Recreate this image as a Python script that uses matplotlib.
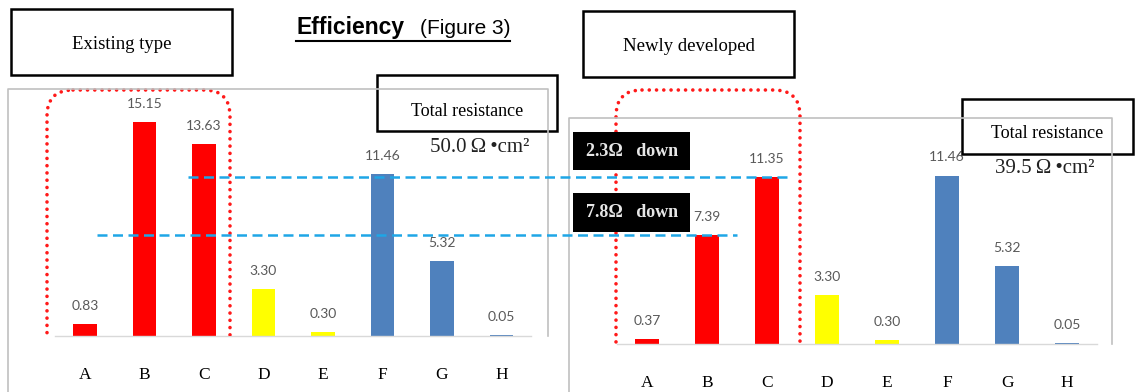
import matplotlib
matplotlib.use("Agg")
import matplotlib.pyplot as plt
from matplotlib.patches import Rectangle, FancyBboxPatch

# data
categories = ['A', 'B', 'C', 'D', 'E', 'F', 'G', 'H']
existing_vals = [0.83, 15.15, 13.63, 3.30, 0.30, 11.46, 5.32, 0.05]
newly_vals = [0.37, 7.39, 11.35, 3.30, 0.30, 11.46, 5.32, 0.05]
total_existing = '50.0'
total_newly = '39.5'
drop_small = '2.3'   # C: 13.63 -> 11.35
drop_big = '7.8'     # B: 15.15 -> 7.39

bar_colors = ['#ff0000'] * 3 + ['#ffff00'] * 2 + ['#4f81bd'] * 3

W, H = 1136, 392
SERIF = 'Liberation Serif'
SANS = 'Liberation Sans'


def px_rect(l, t, r, b):
    # pixel box (top-left origin) -> figure fraction
    return [l / W, (H - b) / H, (r - l) / W, (b - t) / H]


def bar_panel(ax, vals, ymax):
    x = range(len(categories))
    ax.bar(x, vals, width=0.39, color=bar_colors)
    for i, v in enumerate(vals):
        ax.annotate(f'{v:.2f}', (i, v), xytext=(0, 13), textcoords='offset points',
                    ha='center', va='center', fontsize=10, color='#595959',
                    fontfamily='Lato')
    ax.set_xlim(-0.5, len(categories) - 0.5)
    ax.set_ylim(0, ymax)
    ax.set_xticks(list(x))
    ax.set_xticklabels(categories, fontfamily=SERIF, fontsize=12.5)
    ax.tick_params(axis='x', length=0, pad=22)
    ax.set_yticks([])
    for s in ['top', 'left', 'right']:
        ax.spines[s].set_visible(False)
    ax.spines['bottom'].set_color('#d9d9d9')
    ax.spines['bottom'].set_linewidth(1)
    ax.patch.set_alpha(0)


fig = plt.figure(figsize=(W / 100, H / 100), dpi=100)

ax_l = fig.add_axes(px_rect(55.25, 90, 531.25, 336))
bar_panel(ax_l, existing_vals, (336 - 90) / 14.1)

ax_r = fig.add_axes(px_rect(617, 118, 1097, 344))
bar_panel(ax_r, newly_vals, (344 - 118) / 14.7)

# overlay in pixel coordinates for the boxes and marks on top
ov = fig.add_axes([0, 0, 1, 1], zorder=5)
ov.set_xlim(0, W)
ov.set_ylim(H, 0)
ov.axis('off')
ov.patch.set_alpha(0)

# chart frames
ov.plot([8, 8, 548, 548], [H, 89, 89, 336], color='#c0c0c0', lw=1.2)
ov.plot([569, 569, 1112, 1112], [H, 118, 118, 344], color='#c0c0c0', lw=1.2)

# title
ov.text(296, 34, 'Efficiency', fontfamily=SANS, fontweight='bold', fontsize=16.5,
        ha='left', va='baseline')
ov.text(510, 34, '(Figure 3)', fontfamily=SANS, fontsize=15, ha='right', va='baseline')
ov.plot([296, 510], [40.5, 40.5], color='black', lw=1.5)


def label_box(l, t, r, b, text, ty=None, size=13.5):
    ov.add_patch(Rectangle((l, t), r - l, b - t, fc='white', ec='black', lw=1.8))
    ov.text((l + r) / 2, (t + b) / 2 + 2 if ty is None else ty, text, fontfamily=SERIF,
            fontsize=size, ha='center', va='center')


label_box(11, 9, 232, 75, 'Existing type')
label_box(583, 11, 794, 77, 'Newly developed')
label_box(377, 75, 557, 131, 'Total resistance', ty=111, size=13)
label_box(962, 99, 1133, 154, 'Total resistance', ty=134, size=13)

ov.text(480, 147, f'{total_existing}\u2009Ω\u2009•cm²', fontfamily=SERIF, fontsize=15,
        ha='center', va='center', color='#222222')
ov.text(1045, 168, f'{total_newly}\u2009Ω\u2009•cm²', fontfamily=SERIF, fontsize=15,
        ha='center', va='center', color='#222222')

# red dotted rounded outlines around B and C (open at the base line)
for (l, r, base) in [(47, 230, 336), (616, 800, 344)]:
    box = FancyBboxPatch((l, 90), r - l, 300, boxstyle='round,pad=0,rounding_size=26',
                         fill=False, ec='#ff1a1a', lw=2.6, linestyle=(0, (0.01, 2.0)),
                         capstyle='round')
    ov.add_patch(box)
    clip = Rectangle((0, 0), W, base, transform=ov.transData)
    box.set_clip_path(clip)


# dashed blue guide lines at the new C and B levels
def value_to_py(ax, v):
    return H - ax.transData.transform((0, v))[1]


y_up = value_to_py(ax_r, newly_vals[2])
y_low = value_to_py(ax_r, newly_vals[1])
ov.plot([188, 787], [y_up, y_up], color='#1fa6e6', lw=1.8, linestyle=(0, (4, 2.2)))
ov.plot([97, 737], [y_low, y_low], color='#1fa6e6', lw=1.8, linestyle=(0, (4, 2.2)))

# black reduction tags
for (t, b, val) in [(132, 170, drop_small), (193, 232, drop_big)]:
    ov.add_patch(Rectangle((573, t), 690 - 573, b - t, fc='black', ec='black', lw=0))
    ov.text(632, (t + b) / 2, f'{val}Ω   down', fontfamily=SERIF, fontsize=13,
            color='#e6e6e6', ha='center', va='center', fontweight='bold')

fig.savefig('out.png', dpi=100)
